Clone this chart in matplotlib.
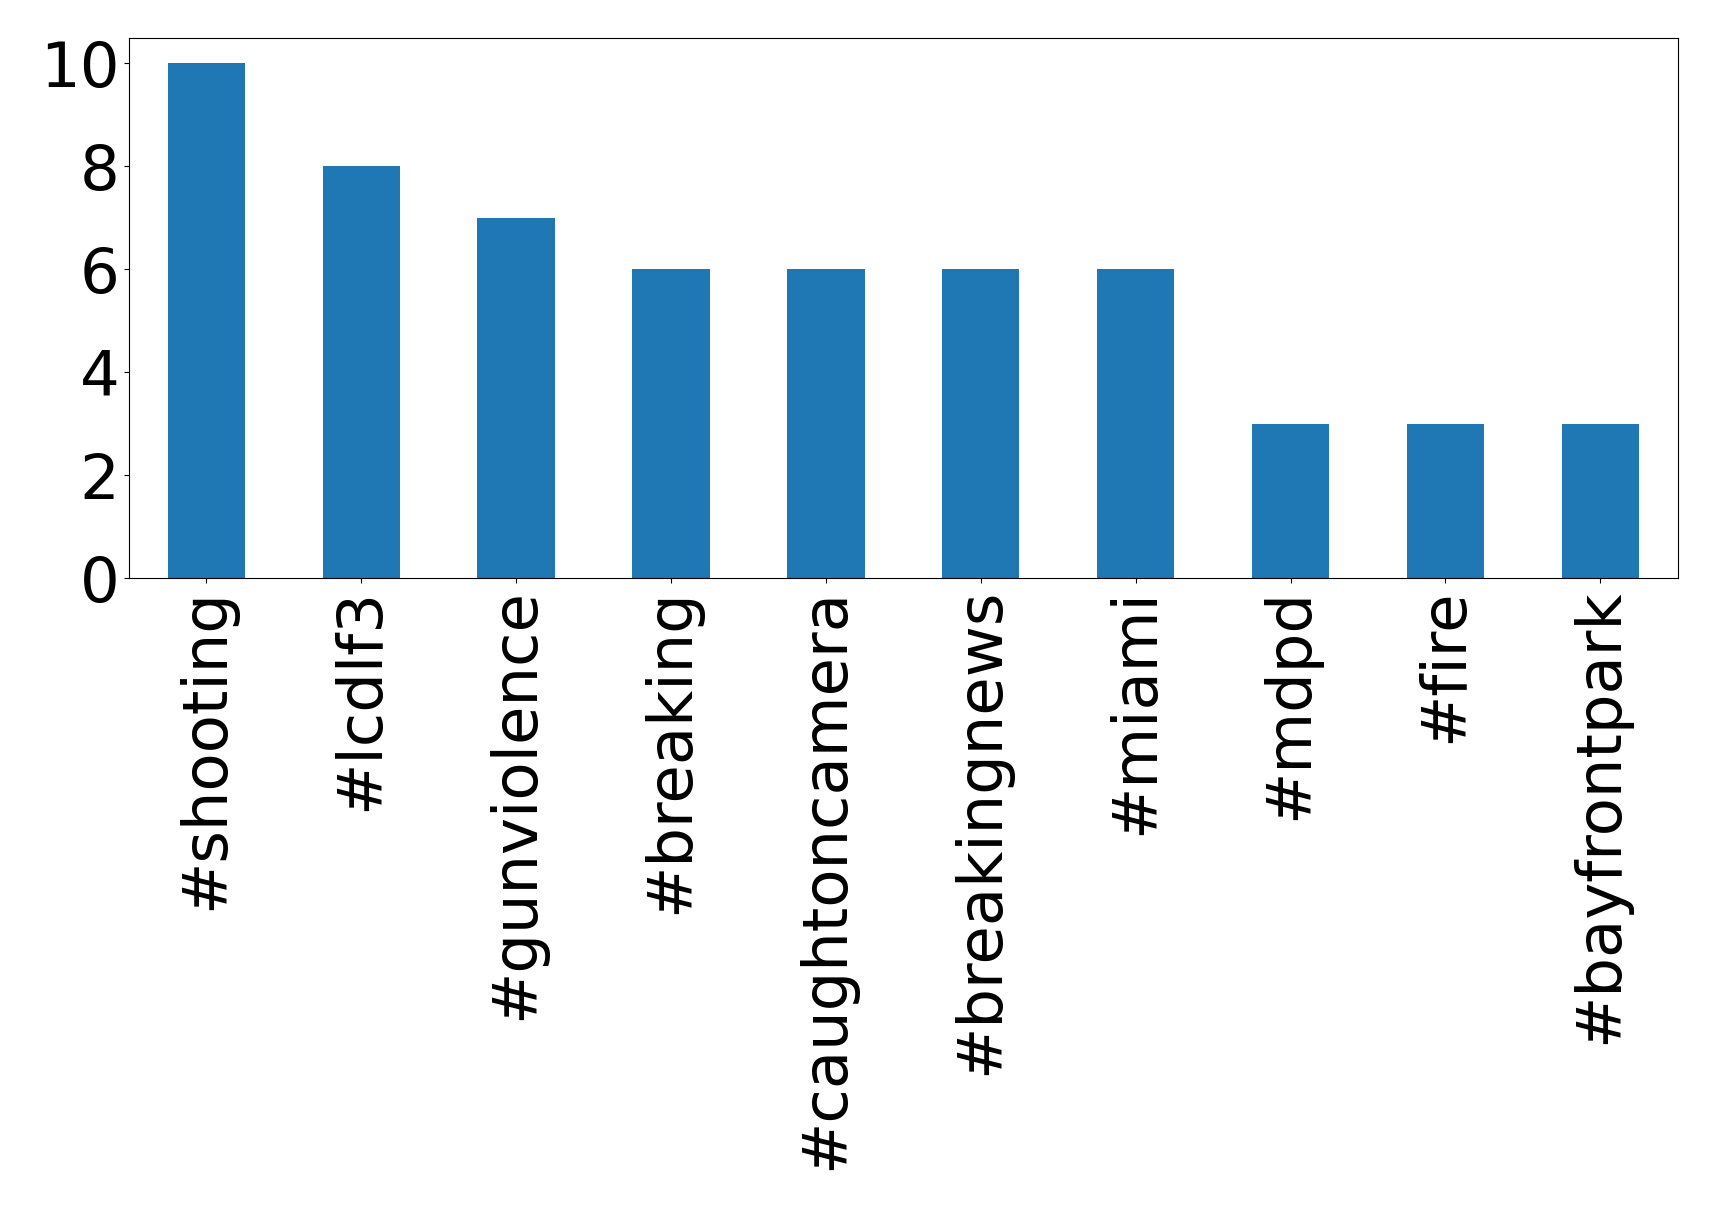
import matplotlib
matplotlib.use("Agg")
import matplotlib.pyplot as plt
import pandas as pd

hashtags = ["#shooting", "#lcdlf3", "#gunviolence", "#breaking", "#caughtoncamera",
            "#breakingnews", "#miami", "#mdpd", "#fire", "#bayfrontpark"]
counts = [10, 8, 7, 6, 6, 6, 6, 3, 3, 3]

s = pd.Series(counts, index=hashtags)

fig = plt.figure(figsize=(17.19, 12.10), dpi=100)
ax = fig.add_axes([0.075, 0.522, 0.901, 0.447])
s.plot(kind="bar", ax=ax, color="#1f77b4", fontsize=45)
ax.set_ylim(0, 10.5)

fig.savefig("out.png", dpi=100)
